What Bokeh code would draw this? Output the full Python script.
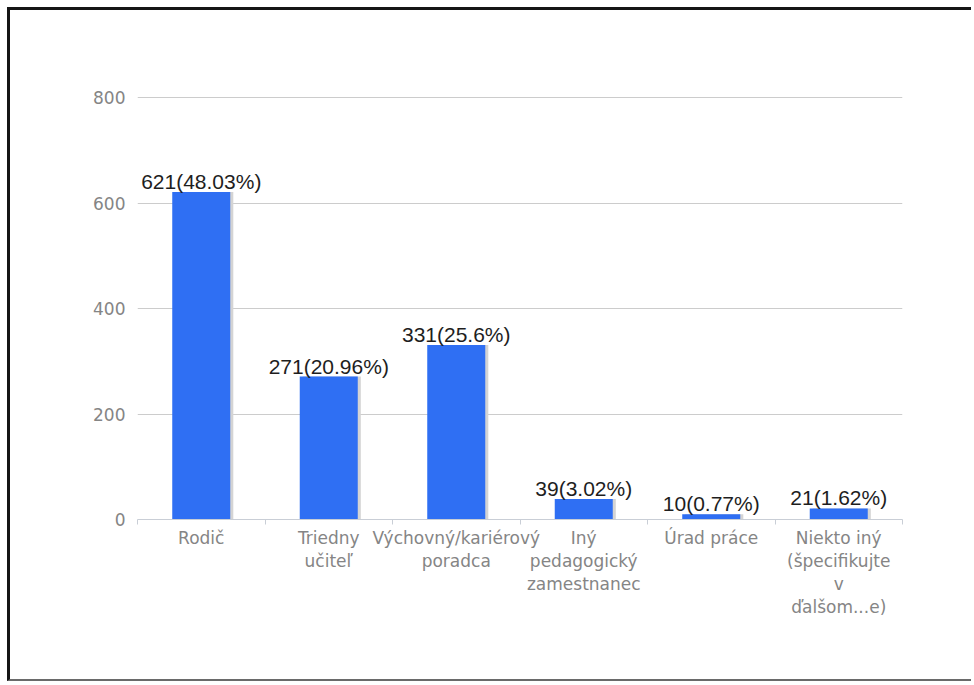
from bokeh.plotting import figure
from bokeh.models import ColumnDataSource, Range1d, FixedTicker
from bokeh.transform import dodge
from bokeh.core.properties import value
from bokeh.embed import file_html
from bokeh.resources import INLINE

# ---- data ----
categories = ["Rodič", "Triedny učiteľ", "Výchovný/kariérový poradca",
              "Iný pedagogický zamestnanec", "Úrad práce",
              "Niekto iný (špecifikujte v ďalšom...e)"]
tick_labels = ["Rodič", "Triedny\nučiteľ", "Výchovný/kariérový\nporadca",
               "Iný\npedagogický\nzamestnanec", "Úrad práce",
               "Niekto iný\n(špecifikujte\nv\nďalšom...e)"]
counts = [621, 271, 331, 39, 10, 21]
percents = ["48.03", "20.96", "25.6", "3.02", "0.77", "1.62"]
y_ticks = [0, 200, 400, 600, 800]

xs = [i + 0.5 for i in range(len(categories))]
labels = [f"{c}({pc}%)" for c, pc in zip(counts, percents)]
src = ColumnDataSource(dict(x=xs, v=counts, label=labels, cat=categories))

p = figure(width=964, height=674, output_backend="svg", toolbar_location=None,
           x_range=Range1d(0, len(categories)), y_range=Range1d(0, 802),
           min_border_left=127, min_border_right=72, min_border_top=86,
           min_border_bottom=165)
p.styles = {"margin": "7px 0 0 7px",
            "border-top": "3px solid #151515", "border-left": "3px solid #151515",
            "border-bottom": "2px solid #6a6a6a"}
p.outline_line_color = None
p.background_fill_color = "white"
p.border_fill_color = "white"

# shadow + bars
p.vbar(x=dodge("x", 0.024, range=p.x_range), top="v", width=0.455, bottom=0,
       source=src, fill_color="#d4d4d4", line_color=None)
p.vbar(x="x", top="v", width=0.455, bottom=0, source=src,
       fill_color="#2f6ff3", line_color=None)

p.text(x="x", y="v", text="label", source=src, text_align="center",
       text_baseline="bottom", y_offset=1,
       text_font=value("Liberation Sans"), text_font_size="21px",
       text_color="#1e1e1e")

# grid
p.xgrid.grid_line_color = None
p.ygrid.grid_line_color = "#cccccc"
p.ygrid.ticker = FixedTicker(ticks=y_ticks)

# y axis
p.yaxis.ticker = FixedTicker(ticks=y_ticks)
p.yaxis.axis_line_color = None
p.yaxis.major_tick_line_color = None
p.yaxis.minor_tick_line_color = None
p.yaxis.major_label_text_font = "DejaVu Sans"
p.yaxis.major_label_text_font_size = "17px"
p.yaxis.major_label_text_color = "#858585"
p.yaxis.major_label_standoff = 6

# x axis: labels at centres, ticks at boundaries
p.xaxis.ticker = FixedTicker(ticks=xs, minor_ticks=list(range(len(categories) + 1)))
p.xaxis.major_label_overrides = {x: t for x, t in zip(xs, tick_labels)}
p.xaxis.axis_line_color = "#c9ced6"
p.xaxis.major_tick_line_color = None
p.xaxis.major_tick_out = 0
p.xaxis.major_tick_in = 0
p.xaxis.minor_tick_line_color = "#c9ced6"
p.xaxis.minor_tick_out = 5
p.xaxis.minor_tick_in = 0
p.xaxis.major_label_text_font = "DejaVu Sans"
p.xaxis.major_label_text_font_size = "17px"
p.xaxis.major_label_text_color = "#858585"
p.xaxis.major_label_text_line_height = 1.15
p.xaxis.major_label_standoff = 3

open("out.html", "w").write(file_html(p, INLINE))
